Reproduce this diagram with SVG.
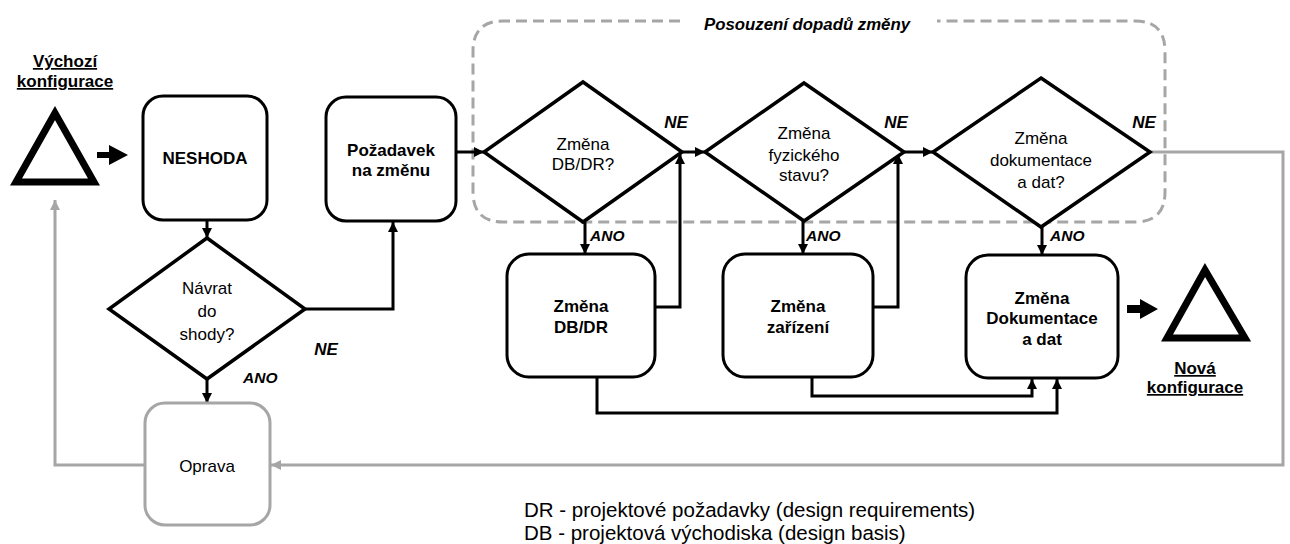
<svg xmlns="http://www.w3.org/2000/svg" width="1290" height="544" viewBox="0 0 1290 544">
<style>
text{font-family:"Liberation Sans",Arial,sans-serif;fill:#000;text-anchor:middle}
.b{font-weight:bold;font-size:17px}
.r{font-size:17px}
.lbl{font-weight:bold;font-style:italic;font-size:17px}
.ano{font-weight:bold;font-style:italic;font-size:15.5px;text-anchor:start}
.box{fill:#fff;stroke:#000;stroke-width:3}
.dia{fill:#fff;stroke:#000;stroke-width:3.5;stroke-linejoin:miter}
.tri{fill:none;stroke:#000;stroke-width:7;stroke-linejoin:miter}
.c{fill:none;stroke:#000;stroke-width:3}
.g{fill:none;stroke:#a6a6a6;stroke-width:3}
.u{text-decoration:underline}
.leg{font-size:20.5px;text-anchor:start}
</style>
<defs>
<marker id="ah" viewBox="0 0 10 10" refX="10" refY="5" markerWidth="11" markerHeight="10" markerUnits="userSpaceOnUse" orient="auto"><path d="M0,0 L10,5 L0,10 z" fill="#000"/></marker>
<marker id="ahg" viewBox="0 0 10 10" refX="10" refY="5" markerWidth="11" markerHeight="10" markerUnits="userSpaceOnUse" orient="auto"><path d="M0,0 L10,5 L0,10 z" fill="#a6a6a6"/></marker>
</defs>

<g id="impact-frame">
<path d="M680,21 H503 Q473,21 473,51 V192 Q473,222 503,222 H1135 Q1165,222 1165,192 V51 Q1165,21 1135,21 H937" fill="none" stroke="#a6a6a6" stroke-width="3" stroke-dasharray="11,6"/>
<text class="lbl" x="807" y="30" style="font-size:16.8px">Posouzení dopadů změny</text>
</g>

<g id="connectors">
<path class="c" d="M207,220 V238" marker-end="url(#ah)"/>
<path class="c" d="M305,309 H393 V222" marker-end="url(#ah)"/>
<path class="c" d="M207,379 V403" marker-end="url(#ah)"/>
<path class="c" d="M456,152 H484" marker-end="url(#ah)"/>
<path class="c" d="M682,152 H705" marker-end="url(#ah)"/>
<path class="c" d="M904,152 H933" marker-end="url(#ah)"/>
<path class="c" d="M585,222 V254" marker-end="url(#ah)"/>
<path class="c" d="M803,221 V254" marker-end="url(#ah)"/>
<path class="c" d="M1042,227 V255" marker-end="url(#ah)"/>
<path class="c" d="M655,307 H680 V154" marker-end="url(#ah)"/>
<path class="c" d="M873,307 H898 V154" marker-end="url(#ah)"/>
<path class="c" d="M597,377 V413 H1057 V379" marker-end="url(#ah)"/>
<path class="c" d="M812,377 V396 H1032 V379" marker-end="url(#ah)"/>
<path class="g" d="M1150,152 H1283 V465 H271" marker-end="url(#ahg)"/>
<path class="g" d="M145,465 H55 V200" marker-end="url(#ahg)"/>
<polygon points="97,152 109,152 109,145 128,155 109,165 109,158 97,158" fill="#000"/>
<polygon points="1127,305 1140,305 1140,299 1158,309 1140,319 1140,313 1127,313" fill="#000"/>
</g>

<g id="start-config">
<polygon class="tri" points="55,113 16,182 94,182"/>
<text class="b u" x="65" y="67">Výchozí</text>
<text class="b u" x="65" y="87">konfigurace</text>
</g>

<g id="neshoda">
<rect class="box" x="143" y="96" width="124" height="124" rx="20"/>
<text class="b" x="205" y="164">NESHODA</text>
</g>

<g id="navrat">
<polygon class="dia" points="207,238 305,309 207,379 109,309"/>
<text class="r" x="207" y="294">Návrat</text>
<text class="r" x="207" y="317">do</text>
<text class="r" x="207" y="340">shody?</text>
<text class="lbl" x="326" y="355">NE</text>
<text class="ano" x="243" y="383">ANO</text>
</g>

<g id="oprava">
<rect x="145" y="403" width="125" height="122" rx="20" fill="#fff" stroke="#a6a6a6" stroke-width="3"/>
<text class="r" x="207" y="472">Oprava</text>
</g>

<g id="pozadavek">
<rect class="box" x="326" y="97" width="130" height="124" rx="20"/>
<text class="b" x="391" y="156">Požadavek</text>
<text class="b" x="391" y="176">na změnu</text>
</g>

<g id="d-dbdr">
<polygon class="dia" points="583,82 682,152 583,222 484,152"/>
<text class="r" x="583" y="150">Změna</text>
<text class="r" x="583" y="170">DB/DR?</text>
<text class="lbl" x="676" y="128">NE</text>
<text class="ano" x="590" y="241">ANO</text>
</g>

<g id="d-fyz">
<polygon class="dia" points="804,83 904,152 804,221 705,152"/>
<text class="r" x="804" y="139">Změna</text>
<text class="r" x="804" y="161">fyzického</text>
<text class="r" x="804" y="181">stavu?</text>
<text class="lbl" x="896" y="128">NE</text>
<text class="ano" x="806" y="241">ANO</text>
</g>

<g id="d-dok">
<polygon class="dia" points="1041,78 1150,152 1041,227 933,152"/>
<text class="r" x="1041" y="144">Změna</text>
<text class="r" x="1041" y="166">dokumentace</text>
<text class="r" x="1041" y="188">a dat?</text>
<text class="lbl" x="1144" y="128">NE</text>
<text class="ano" x="1050" y="241">ANO</text>
</g>

<g id="zmena-dbdr">
<rect class="box" x="507" y="254" width="148" height="123" rx="22"/>
<text class="b" x="581" y="312">Změna</text>
<text class="b" x="581" y="333">DB/DR</text>
</g>

<g id="zmena-zarizeni">
<rect class="box" x="723" y="254" width="150" height="123" rx="22"/>
<text class="b" x="798" y="312">Změna</text>
<text class="b" x="798" y="333">zařízení</text>
</g>

<g id="zmena-dok">
<rect class="box" x="966" y="255" width="152" height="123" rx="22"/>
<text class="b" x="1042" y="304">Změna</text>
<text class="b" x="1042" y="324">Dokumentace</text>
<text class="b" x="1042" y="345">a dat</text>
</g>

<g id="new-config">
<polygon class="tri" points="1205,270 1167,338 1245,338"/>
<text class="b u" x="1195" y="374">Nová</text>
<text class="b u" x="1195" y="393">konfigurace</text>
</g>

<g id="legend">
<text class="leg" x="524" y="517">DR - projektové požadavky (design requirements)</text>
<text class="leg" x="524" y="540">DB - projektová východiska (design basis)</text>
</g>
</svg>
